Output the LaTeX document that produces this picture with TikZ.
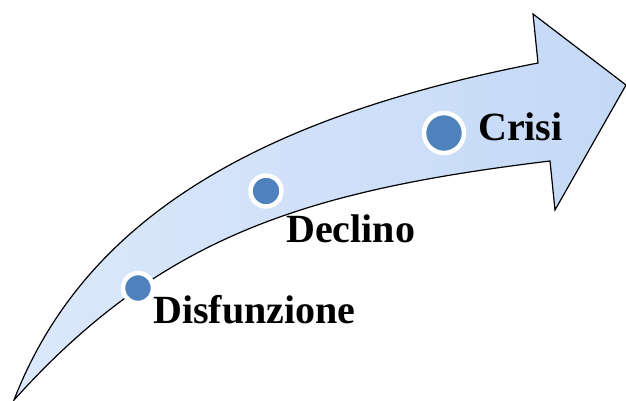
\documentclass[tikz,border=0pt]{standalone}
\usepackage{fontspec}
\setmainfont{Liberation Serif}
\definecolor{arrowL}{HTML}{DCE8FB}
\definecolor{arrowR}{HTML}{C4D9F6}
\definecolor{dotblue}{HTML}{4F81BD}
\tikzset{
  stagedot/.style={circle, fill=dotblue, draw=white, line width=4.5pt, inner sep=0pt},
  stagelabel/.style={anchor=base west, inner sep=0pt, font=\fontsize{40}{45}\selectfont\bfseries}
}
\begin{document}
\begin{tikzpicture}[x=1pt,y=-1pt]
\useasboundingbox (0,0) rectangle (626,401);
\coordinate (tail) at (14,400);
\coordinate (notchU) at (538,63);
\coordinate (headT) at (533,14);
\coordinate (tip) at (626,85);
\coordinate (headB) at (555,210);
\coordinate (notchL) at (550,161);
\clip (0,0) rectangle (626,401);
\path[draw=black, line width=1.2pt, line join=miter, left color=arrowL, right color=arrowR]
  (tail) .. controls (86,214) and (266,116) .. (notchU)
  -- (headT) -- (tip) -- (headB) -- (notchL)
  .. controls (303,191) and (161,237) .. (tail) -- cycle;
\node[stagedot, minimum size=30pt] (d1) at (138,288) {};
\node[stagedot, minimum size=31pt] (d2) at (266,191) {};
\node[stagedot, minimum size=40pt] (d3) at (444,133) {};
\node[stagelabel] (t1) at (153,323) {Disfunzione};
\node[stagelabel] (t2) at (286,242) {Declino};
\node[stagelabel] (t3) at (478,140) {Crisi};
\end{tikzpicture}
\end{document}
